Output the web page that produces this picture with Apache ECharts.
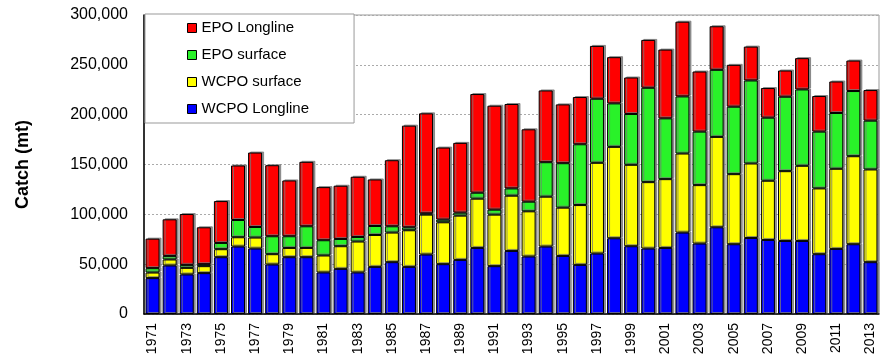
<!DOCTYPE html>
<html>
<head>
<meta charset="utf-8">
<script src="https://cdn.jsdelivr.net/npm/echarts@6/dist/echarts.min.js"></script>
<style>html,body{margin:0;padding:0;background:#fff}#c{width:882px;height:358px}</style>
</head>
<body>
<div id="c"></div>
<script>
const years = [];
for (let y = 1971; y <= 2013; y++) years.push(String(y));
const wcpoLongline = [36000,48700,39700,41000,57000,67700,65700,49700,57000,57000,41700,45300,41700,47300,52000,47300,59700,50000,54300,66300,48000,63300,57700,67700,58300,49300,60700,76000,68000,65700,66300,81700,70700,87000,70000,76300,74300,73300,73300,60000,65300,70000,52000];
const wcpoSurface = [5600,6000,6600,7000,8000,9300,11000,10300,9300,9300,17000,22700,31000,32000,29700,36700,40000,42000,44400,49400,51700,55400,45300,50000,48400,60000,91000,91700,81700,66600,69000,79300,58600,90700,70300,74700,59400,70000,75400,66000,80400,88300,93000];
const epoSurface = [4400,3600,3000,2000,6300,17300,10600,18000,11700,21700,15300,7300,4600,9000,6300,3000,1300,2700,3000,6000,5000,7300,9700,34600,44600,61000,64300,43600,51000,94700,61000,57300,53700,67300,67700,83300,63300,74700,76600,57000,56000,65400,49000];
const epoLongline = [29600,36700,51000,37000,42000,54700,74700,71300,56000,64700,53300,53400,60400,46700,66300,102000,100300,72300,70000,99000,104300,84700,72600,72000,59000,47400,53000,46400,36600,48000,69000,75000,60300,43700,42000,34000,29700,26300,31400,35700,31600,30600,30700];
const yTicks = [0,50000,100000,150000,200000,250000,300000];

const font = 'Liberation Sans, Arial, sans-serif';
const chart = echarts.init(document.getElementById('c'), null, {renderer:'canvas'});
const barStyle = (color) => ({
  color: color, borderColor: '#000', borderWidth: 1,
  shadowColor: 'rgba(120,120,120,0.8)', shadowBlur: 0, shadowOffsetX: 2, shadowOffsetY: -1
});
const mk = (name, data, color) => ({
  name, type: 'bar', stack: 'total', data, barWidth: 14,
  itemStyle: barStyle(color), emphasis: {disabled: true}
});
chart.setOption({
  animation: false,
  textStyle: {fontFamily: font},
  grid: {left: 144, right: 3, top: 15, bottom: 44, show: true, borderColor: '#999', borderWidth: 1},
  legend: {
    orient: 'vertical', left: 145, top: 14,
    data: ['EPO Longline','EPO surface','WCPO surface','WCPO Longline'],
    itemWidth: 9, itemHeight: 9, itemGap: 11,
    icon: 'rect',
    itemStyle: {borderColor: '#000', borderWidth: 1, shadowBlur: 0, shadowOffsetX: 0, shadowOffsetY: 0},
    textStyle: {fontSize: 15, color: '#000', fontFamily: font, lineHeight: 16},
    backgroundColor: '#fff', borderColor: '#999', borderWidth: 1,
    padding: [6, 45, 6, 42]
  },
  xAxis: {
    type: 'category', data: years,
    axisLine: {lineStyle: {color: '#000', width: 1.5}},
    axisTick: {show: false},
    axisLabel: {interval: 1, rotate: 90, fontSize: 14, color: '#000', margin: 9, fontFamily: font}
  },
  yAxis: {
    type: 'value', min: yTicks[0], max: yTicks[yTicks.length-1], interval: 50000,
    name: 'Catch (mt)', nameLocation: 'middle', nameGap: 112,
    nameTextStyle: {fontSize: 18, fontWeight: 'bold', color: '#000', fontFamily: font},
    axisLine: {show: true, lineStyle: {color: '#000', width: 1.5}},
    axisTick: {show: false},
    axisLabel: {fontSize: 16, color: '#000', margin: 16, fontFamily: font,
      formatter: v => v.toLocaleString('en-US')},
    splitLine: {show: true, lineStyle: {color: '#aaa', type: [2,2], width: 1}}
  },
  series: [
    mk('WCPO Longline', wcpoLongline, '#0000FF'),
    mk('WCPO surface', wcpoSurface, '#FFFF00'),
    mk('EPO surface', epoSurface, '#29F229'),
    mk('EPO Longline', epoLongline, '#FF0000')
  ]
});
</script>
</body>
</html>
